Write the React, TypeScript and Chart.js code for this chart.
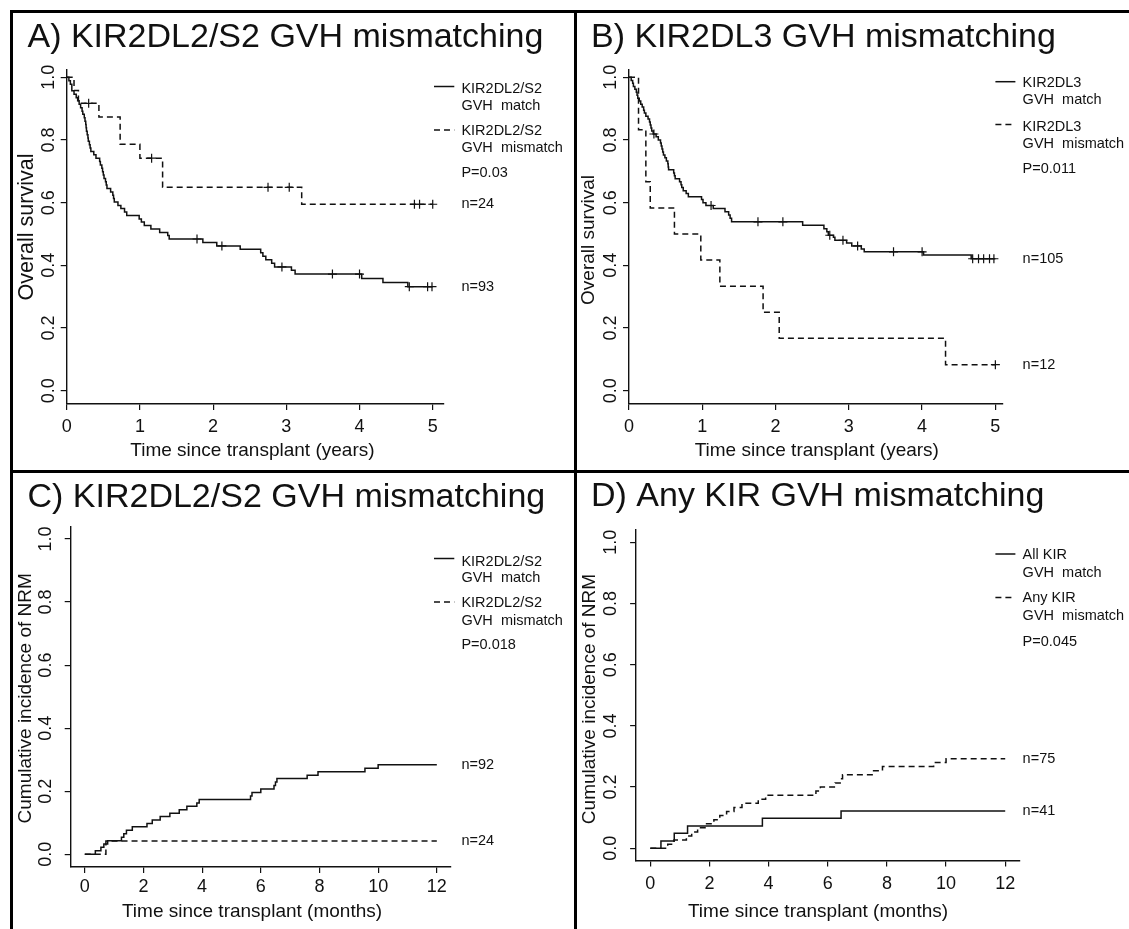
import { useEffect, useRef } from "react";
import { Chart, registerables } from "chart.js";

Chart.register(...registerables);

// ---------- Panel A: overall survival, KIR2DL2/S2 ----------
const aMatchTime = [0, 0.03, 0.05, 0.07, 0.1, 0.13, 0.15, 0.17, 0.19, 0.21, 0.22, 0.24, 0.25, 0.26, 0.265, 0.27, 0.28, 0.29, 0.295, 0.31, 0.32, 0.33, 0.37, 0.4, 0.45, 0.46, 0.48, 0.49, 0.5, 0.51, 0.53, 0.54, 0.55, 0.6, 0.63, 0.64, 0.65, 0.7, 0.74, 0.79, 0.82, 0.99, 1.02, 1.06, 1.15, 1.27, 1.38, 1.4, 1.86, 2.05, 2.37, 2.65, 2.68, 2.72, 2.8, 2.84, 3.07, 3.12, 4.03, 4.32, 4.66, 5.0];
const aMatchSurv = [1, 0.989, 0.978, 0.957, 0.946, 0.935, 0.925, 0.914, 0.903, 0.892, 0.882, 0.871, 0.86, 0.849, 0.839, 0.828, 0.817, 0.806, 0.796, 0.785, 0.774, 0.763, 0.753, 0.742, 0.731, 0.72, 0.71, 0.699, 0.688, 0.677, 0.667, 0.656, 0.645, 0.634, 0.624, 0.613, 0.602, 0.591, 0.581, 0.57, 0.559, 0.548, 0.538, 0.527, 0.516, 0.505, 0.495, 0.484, 0.473, 0.462, 0.451, 0.44, 0.429, 0.418, 0.407, 0.395, 0.384, 0.372, 0.358, 0.345, 0.332, 0.332];
const aMatchCensor = [1.78, 2.12, 2.94, 3.63, 4.0, 4.68, 4.93, 4.99];

const aMismatchTime = [0, 0.1, 0.16, 0.44, 0.73, 1.0, 1.31, 3.21, 5.0];
const aMismatchSurv = [1, 0.958, 0.917, 0.873, 0.786, 0.742, 0.649, 0.595, 0.595];
const aMismatchCensor = [0.3, 1.16, 2.75, 3.04, 4.75, 4.82, 5.0];

// ---------- Panel B: overall survival, KIR2DL3 ----------
const bMatchTime = [0, 0.03, 0.05, 0.06, 0.08, 0.1, 0.11, 0.12, 0.14, 0.16, 0.18, 0.2, 0.21, 0.23, 0.26, 0.28, 0.29, 0.3, 0.31, 0.33, 0.37, 0.4, 0.43, 0.44, 0.45, 0.46, 0.47, 0.49, 0.51, 0.53, 0.535, 0.54, 0.61, 0.62, 0.63, 0.69, 0.71, 0.72, 0.74, 0.78, 0.81, 0.99, 1.01, 1.05, 1.15, 1.31, 1.36, 1.38, 1.4, 2.37, 2.66, 2.7, 2.72, 2.79, 2.81, 2.97, 3.04, 3.17, 3.21, 4.02, 4.67, 5.0];
const bMatchSurv = [1, 0.99, 0.981, 0.971, 0.962, 0.952, 0.943, 0.933, 0.924, 0.914, 0.905, 0.895, 0.886, 0.876, 0.867, 0.857, 0.848, 0.838, 0.829, 0.819, 0.81, 0.8, 0.79, 0.781, 0.771, 0.762, 0.752, 0.743, 0.733, 0.724, 0.714, 0.705, 0.695, 0.686, 0.676, 0.667, 0.657, 0.648, 0.638, 0.629, 0.619, 0.61, 0.6, 0.591, 0.581, 0.571, 0.561, 0.55, 0.539, 0.528, 0.517, 0.507, 0.496, 0.49, 0.48, 0.471, 0.462, 0.452, 0.443, 0.433, 0.421, 0.421];
const bMatchCensor = [0.34, 1.12, 1.76, 2.1, 2.74, 2.92, 3.12, 3.61, 4.0, 4.69, 4.77, 4.84, 4.92, 4.98];

const bMismatchTime = [0, 0.13, 0.23, 0.29, 0.62, 0.98, 1.24, 1.83, 2.05, 4.32, 5.0];
const bMismatchSurv = [1, 0.833, 0.667, 0.583, 0.5, 0.417, 0.333, 0.25, 0.167, 0.083, 0.083];
const bMismatchCensor = [5.0];

// ---------- Panel C: cumulative incidence of NRM, KIR2DL2/S2 ----------
const cMatchTime = [0, 0.36, 0.55, 0.65, 0.78, 1.25, 1.33, 1.42, 1.62, 2.12, 2.3, 2.57, 2.9, 3.22, 3.48, 3.82, 3.9, 5.65, 5.7, 6.0, 6.45, 6.5, 6.55, 7.58, 7.95, 9.55, 10.0, 12.0];
const cMatchInc = [0, 0.011, 0.022, 0.033, 0.043, 0.054, 0.065, 0.076, 0.087, 0.098, 0.109, 0.12, 0.13, 0.141, 0.152, 0.163, 0.174, 0.185, 0.196, 0.207, 0.218, 0.229, 0.24, 0.251, 0.262, 0.273, 0.284, 0.284];

const cMismatchTime = [0, 0.72, 12.0];
const cMismatchInc = [0, 0.042, 0.042];

// ---------- Panel D: cumulative incidence of NRM, any KIR ----------
const dMatchTime = [0, 0.36, 0.81, 1.26, 3.79, 6.45, 12.0];
const dMatchInc = [0, 0.024, 0.049, 0.073, 0.098, 0.122, 0.122];

const dMismatchTime = [0, 0.59, 0.8, 1.22, 1.4, 1.6, 1.85, 2.15, 2.35, 2.58, 2.83, 3.1, 3.65, 3.9, 5.6, 5.75, 6.25, 6.42, 6.5, 7.55, 7.85, 9.58, 10.0, 12.0];
const dMismatchInc = [0, 0.013, 0.027, 0.04, 0.053, 0.067, 0.08, 0.093, 0.107, 0.12, 0.133, 0.147, 0.16, 0.173, 0.187, 0.2, 0.213, 0.227, 0.24, 0.253, 0.267, 0.28, 0.293, 0.293];

// ---------- styling ----------
const FONT = '"Liberation Sans", Arial, Helvetica, sans-serif';
const INK = "#111";
const DASH = [6, 4];
const CURVE_W = 1.5;
const TITLE_SIZE = 34;
const TICK_SIZE = 18;
const LEGEND_SIZE = 14.5;

interface Curve {
  time: number[];
  value: number[];
  censor: number[];
  dashed: boolean;
  n: string;
}

interface LegendEntry {
  lines: string[];
  ys: number[];
  lineY: number;
  dashed: boolean;
}

interface AxisLabel {
  text: string;
  x: number;
  y: number;
  size: number;
}

interface PanelSpec {
  id: string;
  canvas: { left: number; top: number; width: number; height: number };
  box: { left: number; right: number; top: number; bottom: number };
  xRange: [number, number];
  xStep: number;
  yRange: [number, number];
  xLabel: AxisLabel;
  yLabel: AxisLabel;
  yTickPad: number;
  xTickPad: number;
  title: string;
  titleX: number;
  titleY: number;
  legendX0: number;
  legendX1: number;
  legendTextX: number;
  legend: LegendEntry[];
  pText: string;
  pY: number;
  curves: Curve[];
}

const panels: PanelSpec[] = [
  {
    id: "A",
    canvas: { left: 13, top: 13, width: 561, height: 457 },
    box: { left: 66.7, right: 444, top: 69.3, bottom: 404 },
    xRange: [0, 5.154],
    xStep: 1,
    yRange: [-0.0424, 1.0255],
    xLabel: { text: "Time since transplant (years)", x: 252.4, y: 450.5, size: 19 },
    yLabel: { text: "Overall survival", x: 27, y: 227, size: 21.5 },
    yTickPad: -1,
    xTickPad: 6.5,
    title: "A) KIR2DL2/S2 GVH mismatching",
    titleX: 27.5,
    titleY: 46.7,
    legendX0: 434,
    legendX1: 454.3,
    legendTextX: 461.4,
    legend: [
      { lines: ["KIR2DL2/S2", "GVH  match"], ys: [89.3, 106], lineY: 86.5, dashed: false },
      { lines: ["KIR2DL2/S2", "GVH  mismatch"], ys: [130.7, 148.3], lineY: 130, dashed: true },
    ],
    pText: "P=0.03",
    pY: 173.3,
    curves: [
      { time: aMatchTime, value: aMatchSurv, censor: aMatchCensor, dashed: false, n: "n=93" },
      { time: aMismatchTime, value: aMismatchSurv, censor: aMismatchCensor, dashed: true, n: "n=24" },
    ],
  },
  {
    id: "B",
    canvas: { left: 577, top: 13, width: 552, height: 457 },
    box: { left: 629, right: 1002.7, top: 69.3, bottom: 404 },
    xRange: [0, 5.1],
    xStep: 1,
    yRange: [-0.0424, 1.0255],
    xLabel: { text: "Time since transplant (years)", x: 816.8, y: 451.2, size: 19 },
    yLabel: { text: "Overall survival", x: 589, y: 240, size: 19 },
    yTickPad: -1,
    xTickPad: 6.5,
    title: "B) KIR2DL3 GVH mismatching",
    titleX: 591,
    titleY: 46.7,
    legendX0: 995.4,
    legendX1: 1015.4,
    legendTextX: 1022.6,
    legend: [
      { lines: ["KIR2DL3", "GVH  match"], ys: [82.7, 100], lineY: 81.7, dashed: false },
      { lines: ["KIR2DL3", "GVH  mismatch"], ys: [126.7, 144], lineY: 124.5, dashed: true },
    ],
    pText: "P=0.011",
    pY: 169.3,
    curves: [
      { time: bMatchTime, value: bMatchSurv, censor: bMatchCensor, dashed: false, n: "n=105" },
      { time: bMismatchTime, value: bMismatchSurv, censor: bMismatchCensor, dashed: true, n: "n=12" },
    ],
  },
  {
    id: "C",
    canvas: { left: 13, top: 473, width: 561, height: 456 },
    box: { left: 70.7, right: 450.9, top: 526.4, bottom: 866.9 },
    xRange: [-0.48, 12.48],
    xStep: 2,
    yRange: [-0.04, 1.04],
    xLabel: { text: "Time since transplant (months)", x: 252, y: 911.7, size: 19 },
    yLabel: { text: "Cumulative incidence of NRM", x: 26, y: 698.3, size: 19 },
    yTickPad: 6,
    xTickPad: 3,
    title: "C) KIR2DL2/S2 GVH mismatching",
    titleX: 27.5,
    titleY: 506.7,
    legendX0: 434,
    legendX1: 454.3,
    legendTextX: 461.4,
    legend: [
      { lines: ["KIR2DL2/S2", "GVH  match"], ys: [561.7, 578.3], lineY: 558.5, dashed: false },
      { lines: ["KIR2DL2/S2", "GVH  mismatch"], ys: [602.7, 620.7], lineY: 602, dashed: true },
    ],
    pText: "P=0.018",
    pY: 645,
    curves: [
      { time: cMatchTime, value: cMatchInc, censor: [], dashed: false, n: "n=92" },
      { time: cMismatchTime, value: cMismatchInc, censor: [], dashed: true, n: "n=24" },
    ],
  },
  {
    id: "D",
    canvas: { left: 577, top: 473, width: 552, height: 456 },
    box: { left: 636.1, right: 1019.4, top: 530.1, bottom: 860.5 },
    xRange: [-0.48, 12.48],
    xStep: 2,
    yRange: [-0.04, 1.04],
    xLabel: { text: "Time since transplant (months)", x: 818, y: 911.7, size: 19 },
    yLabel: { text: "Cumulative incidence of NRM", x: 590, y: 699, size: 19 },
    yTickPad: 6.5,
    xTickPad: 6.5,
    title: "D) Any KIR GVH mismatching",
    titleX: 591,
    titleY: 505.7,
    legendX0: 995.4,
    legendX1: 1015.4,
    legendTextX: 1022.6,
    legend: [
      { lines: ["All KIR", "GVH  match"], ys: [555, 572.7], lineY: 554, dashed: false },
      { lines: ["Any KIR", "GVH  mismatch"], ys: [598.3, 616], lineY: 597.5, dashed: true },
    ],
    pText: "P=0.045",
    pY: 641.7,
    curves: [
      { time: dMatchTime, value: dMatchInc, censor: [], dashed: false, n: "n=41" },
      { time: dMismatchTime, value: dMismatchInc, censor: [], dashed: true, n: "n=75" },
    ],
  },
];

// value of a step curve at time t (right-continuous)
function valueAt(c: Curve, t: number): number {
  let v = c.value[0];
  for (let i = 0; i < c.time.length; i++) {
    if (c.time[i] <= t) v = c.value[i];
  }
  return v;
}

function PanelChart({ p }: { p: PanelSpec }) {
  const ref = useRef<HTMLCanvasElement | null>(null);

  useEffect(() => {
    const canvas = ref.current;
    if (!canvas) return;
    const cl = p.canvas.left;
    const ct = p.canvas.top;

    // plot box placement inside the canvas
    const yAxisW = p.box.left - cl;
    const padTop = p.box.top - ct;
    const padRight = p.canvas.width - (p.box.right - cl);
    const xAxisH = p.canvas.height - (p.box.bottom - ct);

    const datasets: any[] = [];
    p.curves.forEach((c) => {
      datasets.push({
        data: c.time.map((t, i) => ({ x: t, y: c.value[i] })),
        stepped: true,
        borderColor: INK,
        borderWidth: CURVE_W,
        borderDash: c.dashed ? DASH : [],
        pointRadius: 0,
        fill: false,
        tension: 0,
        clip: false,
      });
      if (c.censor.length) {
        datasets.push({
          data: c.censor.map((t) => ({ x: t, y: valueAt(c, t) })),
          showLine: false,
          pointStyle: "cross",
          pointRadius: 4.5,
          pointBorderColor: INK,
          pointBorderWidth: 1.2,
          borderColor: INK,
          clip: false,
        });
      }
    });

    const annotate = {
      id: "panelText" + p.id,
      afterDraw(chart: any) {
        const ctx: CanvasRenderingContext2D = chart.ctx;
        ctx.save();
        ctx.fillStyle = INK;
        ctx.strokeStyle = INK;

        // panel heading
        ctx.textAlign = "left";
        ctx.textBaseline = "alphabetic";
        ctx.font = `${TITLE_SIZE}px ${FONT}`;
        ctx.fillText(p.title, p.titleX - cl, p.titleY - ct);

        // axis titles
        ctx.textAlign = "center";
        ctx.textBaseline = "middle";
        ctx.font = `${p.xLabel.size}px ${FONT}`;
        ctx.fillText(p.xLabel.text, p.xLabel.x - cl, p.xLabel.y - ct);
        ctx.save();
        ctx.translate(p.yLabel.x - cl, p.yLabel.y - ct);
        ctx.rotate(-Math.PI / 2);
        ctx.font = `${p.yLabel.size}px ${FONT}`;
        ctx.fillText(p.yLabel.text, 0, 0);
        ctx.restore();

        // legend
        ctx.textAlign = "left";
        ctx.font = `${LEGEND_SIZE}px ${FONT}`;
        p.legend.forEach((e) => {
          ctx.beginPath();
          ctx.lineWidth = CURVE_W;
          ctx.setLineDash(e.dashed ? DASH : []);
          ctx.moveTo(p.legendX0 - cl, e.lineY - ct);
          ctx.lineTo(p.legendX1 - cl, e.lineY - ct);
          ctx.stroke();
          e.lines.forEach((t, i) => ctx.fillText(t, p.legendTextX - cl, e.ys[i] - ct));
        });
        ctx.setLineDash([]);
        ctx.fillText(p.pText, p.legendTextX - cl, p.pY - ct);

        // group sizes next to the curve ends
        const ys = chart.scales.y;
        p.curves.forEach((c) => {
          const last = c.value[c.value.length - 1];
          ctx.fillText(c.n, p.legendTextX - cl, ys.getPixelForValue(last));
        });
        ctx.restore();
      },
    };

    const tickFont = { family: FONT, size: TICK_SIZE };

    const chart = new Chart(canvas, {
      type: "line",
      data: { datasets },
      plugins: [annotate],
      options: {
        animation: false,
        responsive: false,
        maintainAspectRatio: false,
        events: [],
        layout: { padding: { left: 0, top: padTop, right: padRight, bottom: 0 } },
        plugins: {
          legend: { display: false },
          tooltip: { enabled: false },
          title: { display: false },
        },
        scales: {
          x: {
            type: "linear",
            min: p.xRange[0],
            max: p.xRange[1],
            afterFit: (s: any) => {
              s.height = xAxisH;
            },
            ticks: {
              stepSize: p.xStep,
              includeBounds: false,
              autoSkip: false,
              maxRotation: 0,
              minRotation: 0,
              padding: p.xTickPad,
              color: INK,
              font: tickFont,
              callback: (v: any) => String(Math.round(Number(v))),
            },
            grid: { display: true, drawOnChartArea: false, drawTicks: true, tickLength: 6, color: INK, lineWidth: 1.2 },
            border: { display: true, color: INK, width: 1.4 },
            title: { display: false },
          },
          y: {
            type: "linear",
            min: p.yRange[0],
            max: p.yRange[1],
            afterFit: (s: any) => {
              s.width = yAxisW;
            },
            ticks: {
              stepSize: 0.2,
              includeBounds: false,
              autoSkip: false,
              minRotation: 90,
              maxRotation: 90,
              crossAlign: "center",
              padding: p.yTickPad,
              color: INK,
              font: tickFont,
              callback: (v: any) => Number(v).toFixed(1),
            },
            grid: { display: true, drawOnChartArea: false, drawTicks: true, tickLength: 6, color: INK, lineWidth: 1.2 },
            border: { display: true, color: INK, width: 1.4 },
            title: { display: false },
          },
        },
      } as any,
    });
    return () => chart.destroy();
  }, [p]);

  return (
    <canvas
      ref={ref}
      width={p.canvas.width}
      height={p.canvas.height}
      style={{
        position: "absolute",
        left: p.canvas.left,
        top: p.canvas.top,
        width: p.canvas.width,
        height: p.canvas.height,
      }}
    />
  );
}

const rule = (left: number, top: number, width: number, height: number) => (
  <div style={{ position: "absolute", left, top, width, height, background: "#000" }} />
);

export default function App() {
  return (
    <div
      style={{
        position: "absolute",
        left: 0,
        top: 0,
        width: 1129,
        height: 929,
        background: "#fff",
        overflow: "hidden",
      }}
    >
      {panels.map((p) => (
        <PanelChart key={p.id} p={p} />
      ))}
      {rule(10, 10, 1119, 3)}
      {rule(10, 10, 3, 919)}
      {rule(574, 10, 3, 919)}
      {rule(10, 470, 1119, 3)}
    </div>
  );
}
